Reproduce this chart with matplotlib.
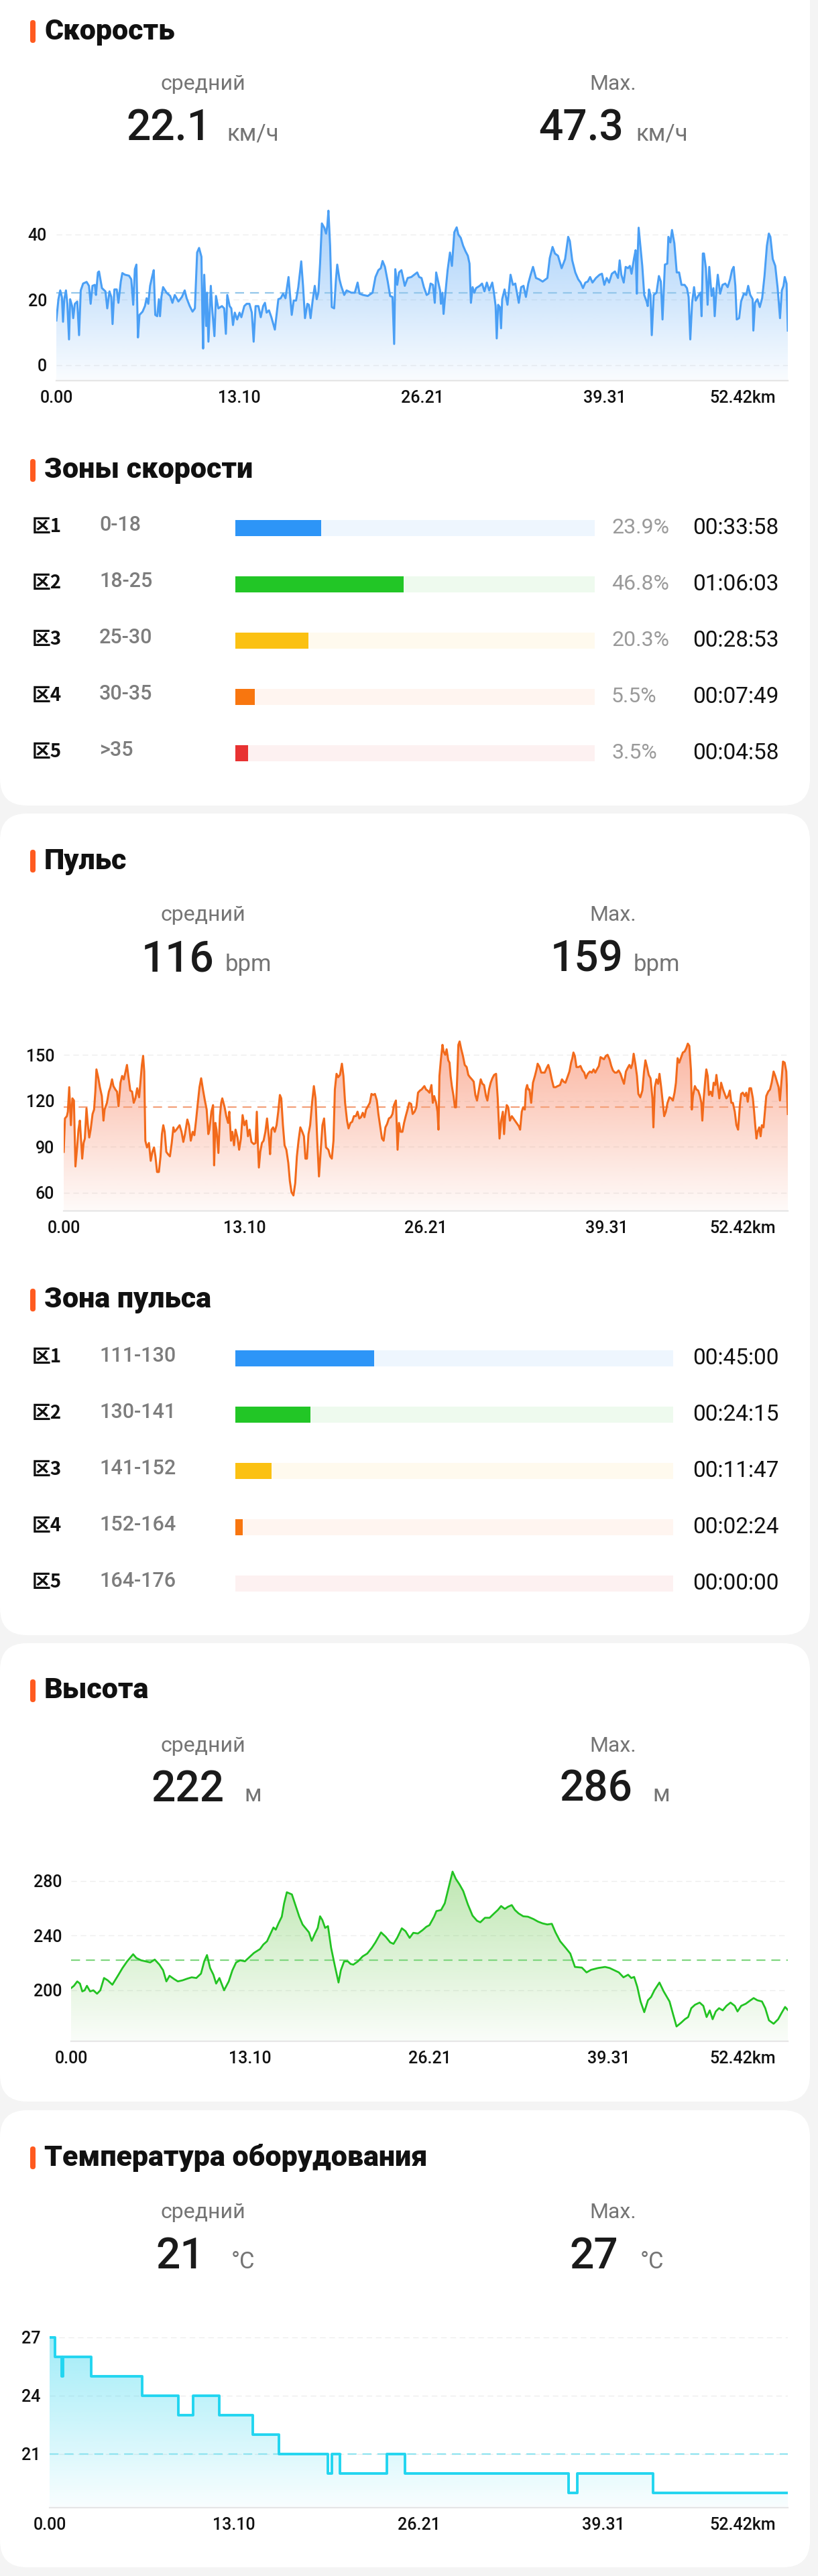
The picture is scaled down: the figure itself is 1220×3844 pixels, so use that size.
import numpy as np
import matplotlib
matplotlib.use("Agg")
import matplotlib.pyplot as plt
from matplotlib.patches import FancyBboxPatch
from matplotlib.colors import to_rgb
from matplotlib.transforms import ScaledTranslation

# ── DATA ──────────────────────────────────────────────────────────────
TOTAL_KM = 52.42
x_ticks = [0, 13.105, 26.21, 39.315, 52.42]
x_tick_labels = ["0.00", "13.10", "26.21", "39.31", "52.42km"]

# (km, km/h)
speed_points = [
    (0.00, 13.7), (0.15, 20.2), (0.28, 22.9), (0.40, 20.9), (0.48, 13.3), (0.57, 20.2), (0.69, 22.9),
    (0.79, 18.8), (0.91, 7.9), (0.99, 20.2), (1.13, 18.1), (1.21, 14.4), (1.33, 18.8), (1.50, 19.5),
    (1.63, 9.2), (1.75, 22.9), (1.92, 25.0), (2.17, 25.5), (2.34, 24.3), (2.46, 18.8), (2.59, 24.3),
    (2.76, 24.6), (2.84, 21.5), (2.98, 28.4), (3.06, 28.7), (3.27, 23.6), (3.52, 22.6), (3.65, 17.4),
    (3.81, 22.6), (3.94, 20.9), (4.03, 12.6), (4.16, 23.2), (4.33, 23.2), (4.45, 19.1), (4.62, 25.6),
    (4.73, 28.2), (4.92, 27.7), (5.21, 27.4), (5.37, 26.3), (5.51, 18.5), (5.63, 29.4), (5.74, 30.8),
    (5.85, 8.5), (5.96, 15.4), (6.18, 16.4), (6.35, 18.1), (6.47, 20.5), (6.59, 18.8), (6.72, 24.3),
    (6.86, 27.0), (6.98, 29.1), (7.09, 15.4), (7.23, 15.0), (7.35, 20.2), (7.43, 15.0), (7.53, 20.9),
    (7.65, 23.9), (7.90, 22.2), (8.16, 21.2), (8.32, 19.1), (8.49, 21.5), (8.75, 19.5), (9.00, 20.9),
    (9.20, 22.9), (9.34, 20.5), (9.56, 18.1), (9.76, 16.4), (9.93, 17.4), (10.09, 34.5), (10.23, 35.9),
    (10.40, 33.2), (10.47, 14.7), (10.52, 5.1), (10.60, 27.7), (10.74, 12.0), (10.80, 22.2), (10.90, 7.2),
    (11.07, 24.3), (11.19, 16.1), (11.33, 8.9), (11.44, 21.2), (11.61, 17.4), (11.87, 18.1), (12.03, 17.4),
    (12.15, 9.6), (12.25, 21.5), (12.42, 18.1), (12.54, 17.4), (12.66, 12.3), (12.79, 16.1), (12.96, 14.0),
    (13.13, 16.1), (13.26, 14.7), (13.47, 18.1), (13.64, 18.8), (13.84, 18.8), (14.01, 16.1), (14.14, 7.2),
    (14.28, 18.1), (14.48, 18.1), (14.65, 14.7), (14.82, 18.1), (14.95, 19.1), (15.07, 16.1), (15.24, 16.8),
    (15.41, 14.7), (15.66, 10.9), (15.91, 20.2), (16.08, 20.5), (16.25, 21.9), (16.42, 20.5), (16.64, 27.0),
    (16.75, 21.5), (16.87, 15.4), (17.01, 19.8), (17.18, 19.8), (17.34, 23.9), (17.55, 31.8), (17.68, 24.3),
    (17.82, 14.4), (17.99, 18.8), (18.10, 18.5), (18.22, 14.4), (18.36, 19.5), (18.52, 24.3), (18.66, 20.2),
    (18.78, 22.2), (18.90, 31.1), (19.03, 43.4), (19.20, 42.1), (19.33, 40.3), (19.42, 42.7), (19.50, 47.3),
    (19.62, 36.6), (19.74, 17.8), (19.91, 17.4), (20.04, 26.3), (20.13, 30.8), (20.29, 26.3), (20.41, 24.3),
    (20.63, 21.5), (20.80, 22.9), (21.14, 22.2), (21.39, 22.2), (21.59, 25.3), (21.73, 21.9), (21.98, 21.5),
    (22.32, 21.2), (22.66, 22.2), (22.87, 27.0), (23.08, 29.1), (23.25, 29.7), (23.38, 31.9), (23.55, 30.1),
    (23.75, 25.6), (23.92, 21.2), (24.09, 20.9), (24.21, 6.5), (24.29, 29.4), (24.43, 24.6), (24.56, 28.4),
    (24.73, 29.1), (24.97, 24.3), (25.18, 26.7), (25.44, 27.0), (25.86, 28.4),
    (26.00, 27.0), (26.17, 26.7), (26.34, 23.9), (26.54, 21.5), (26.68, 21.9), (26.82, 25.0), (26.99, 24.6),
    (27.12, 19.1), (27.22, 28.4), (27.36, 25.6), (27.50, 22.9), (27.56, 18.8), (27.67, 22.2), (27.75, 15.7),
    (27.87, 21.5), (28.04, 29.1), (28.21, 34.5), (28.35, 30.4), (28.52, 40.7), (28.69, 42.2), (28.81, 40.0),
    (28.98, 39.0), (29.15, 36.6), (29.32, 34.9), (29.49, 33.5), (29.61, 31.1), (29.71, 19.1), (29.83, 23.9),
    (29.95, 22.2), (30.08, 23.6), (30.34, 24.3), (30.51, 25.0), (30.68, 22.6), (30.85, 25.3), (31.02, 22.9),
    (31.24, 25.3), (31.36, 22.2), (31.48, 18.1), (31.56, 8.2), (31.66, 18.5), (31.78, 17.8), (31.87, 11.3),
    (31.95, 20.2), (32.12, 23.2), (32.33, 18.5), (32.55, 27.7), (32.72, 24.6), (32.89, 25.0), (33.01, 22.2),
    (33.14, 19.1), (33.31, 23.9), (33.48, 24.3), (33.65, 20.9), (33.82, 25.0), (33.99, 27.7), (34.16, 30.1),
    (34.37, 26.7), (34.59, 26.3), (34.85, 25.6), (35.19, 26.7), (35.36, 32.8), (35.56, 36.2), (35.73, 34.2),
    (35.95, 33.5), (36.21, 29.7), (36.46, 32.5), (36.68, 39.3), (36.80, 38.0), (36.97, 32.1), (37.19, 28.4),
    (37.40, 26.3), (37.57, 25.3), (37.74, 23.6), (37.91, 25.3), (38.08, 25.6), (38.25, 27.0), (38.42, 25.3),
    (38.67, 26.7), (38.93, 27.7), (39.10, 28.0), (39.27, 24.6), (39.44, 26.7), (39.61, 25.3), (39.81, 28.0),
    (40.03, 28.7), (40.25, 26.7), (40.37, 32.1), (40.49, 27.7), (40.66, 25.3), (40.80, 30.1), (40.97, 29.7),
    (41.10, 30.4), (41.22, 28.0), (41.39, 32.5), (41.51, 35.2), (41.60, 21.9), (41.65, 32.5), (41.73, 42.1),
    (41.85, 36.6), (41.99, 30.4), (42.13, 21.5), (42.30, 19.5), (42.38, 18.1), (42.47, 23.2), (42.58, 21.5),
    (42.67, 9.2), (42.81, 21.5), (43.01, 22.2), (43.18, 27.3), (43.32, 25.6), (43.44, 14.0), (43.61, 30.8),
    (43.78, 31.1), (43.86, 39.3), (44.00, 37.6), (44.12, 41.4), (44.29, 37.3), (44.46, 28.4), (44.63, 28.4),
    (44.80, 24.6), (45.02, 24.6), (45.19, 23.6), (45.31, 20.9), (45.43, 7.9), (45.56, 19.1), (45.70, 23.9),
    (45.82, 19.8), (45.99, 21.2), (46.16, 22.2), (46.24, 15.0), (46.33, 34.2), (46.41, 34.2), (46.55, 29.7),
    (46.67, 18.5), (46.79, 30.1), (46.96, 21.2), (47.09, 23.6), (47.18, 15.0), (47.30, 22.9), (47.40, 27.7),
    (47.57, 21.9), (47.74, 24.6), (47.94, 25.0), (48.11, 23.9), (48.28, 26.3), (48.42, 29.1), (48.54, 30.1),
    (48.66, 24.3), (48.76, 14.0), (48.93, 14.4), (49.07, 19.5), (49.27, 21.9), (49.44, 21.5), (49.58, 24.3),
    (49.73, 21.5), (49.90, 20.2), (49.95, 10.6), (50.07, 19.1), (50.24, 20.2), (50.41, 17.8), (50.58, 20.5),
    (50.75, 27.4), (50.92, 36.6), (51.06, 40.3), (51.17, 39.3), (51.34, 32.5), (51.52, 30.4), (51.69, 23.6),
    (51.86, 14.4), (51.99, 22.9), (52.11, 24.3), (52.20, 27.0), (52.33, 25.0), (52.42, 10.6),
]

# (km, bpm)
pulse_points = [
    (0.00, 86.7), (0.09, 108.5), (0.23, 110.0), (0.30, 112.9), (0.40, 128.9), (0.52, 104.1), (0.63, 121.6),
    (0.74, 120.2), (0.85, 77.2), (0.97, 89.6), (1.07, 101.2), (1.17, 107.1), (1.28, 91.0), (1.34, 82.3),
    (1.44, 92.5), (1.53, 95.4), (1.65, 115.1), (1.75, 104.1), (1.85, 96.1), (1.95, 101.2), (2.09, 111.4),
    (2.20, 114.3), (2.29, 126.0), (2.37, 140.5), (2.51, 134.7), (2.62, 128.9), (2.76, 123.1), (2.88, 107.1),
    (2.96, 114.3), (3.13, 118.7), (3.27, 126.0), (3.38, 128.9), (3.50, 134.0), (3.60, 129.6), (3.74, 127.4),
    (3.86, 126.0), (3.97, 116.5), (4.11, 131.8), (4.23, 136.2), (4.35, 134.0), (4.48, 139.1), (4.58, 143.4),
    (4.68, 136.2), (4.82, 126.7), (4.95, 126.0), (5.07, 118.7), (5.19, 121.6), (5.32, 128.2), (5.46, 122.3),
    (5.58, 134.7), (5.66, 143.4), (5.75, 149.3), (5.83, 139.1), (5.91, 94.0), (6.03, 89.6), (6.17, 92.5),
    (6.30, 80.9), (6.42, 86.7), (6.54, 89.6), (6.64, 83.8), (6.76, 73.6), (6.89, 73.6), (7.01, 83.8),
    (7.11, 98.3), (7.21, 104.1), (7.31, 99.8), (7.43, 86.7), (7.55, 85.2), (7.69, 83.8), (7.82, 92.5),
    (7.94, 102.7), (8.02, 99.8), (8.16, 101.2), (8.28, 102.7), (8.39, 104.1), (8.53, 99.8), (8.66, 93.2),
    (8.78, 98.3), (8.95, 107.8), (9.07, 104.1), (9.20, 94.0), (9.34, 99.8), (9.46, 97.6), (9.58, 107.1),
    (9.71, 118.7), (9.83, 128.9), (9.95, 134.7), (10.08, 127.4), (10.22, 120.2), (10.35, 114.3), (10.47, 98.3),
    (10.55, 101.2), (10.69, 112.9), (10.81, 117.2), (10.89, 77.9), (10.98, 105.6), (11.06, 101.2), (11.20, 86.0),
    (11.31, 110.0), (11.40, 118.7), (11.48, 121.6), (11.65, 115.8), (11.77, 110.0), (11.90, 105.6), (11.99, 112.9),
    (12.11, 94.0), (12.21, 99.8), (12.33, 91.0), (12.44, 101.2), (12.58, 96.1), (12.70, 88.1), (12.83, 95.4),
    (12.95, 110.7), (13.08, 104.1), (13.22, 107.1), (13.34, 96.9), (13.46, 101.2), (13.59, 93.2), (13.76, 91.8),
    (13.89, 92.5), (13.98, 112.9), (14.06, 91.0), (14.13, 76.5), (14.23, 86.7), (14.35, 92.5), (14.47, 94.0),
    (14.60, 99.8), (14.72, 108.5), (14.86, 95.4), (14.94, 85.2), (15.04, 101.2), (15.16, 102.7), (15.28, 99.8),
    (15.41, 104.1), (15.53, 112.9), (15.65, 123.8), (15.75, 121.6), (15.87, 104.1), (15.99, 91.0), (16.12, 88.1),
    (16.26, 79.4), (16.37, 67.8), (16.49, 60.5), (16.63, 58.3), (16.76, 66.3), (16.88, 83.8), (17.00, 94.0),
    (17.13, 102.7), (17.27, 99.8), (17.39, 96.9), (17.50, 82.3), (17.61, 82.3), (17.72, 98.3), (17.84, 104.1),
    (17.98, 118.7), (18.11, 129.6), (18.23, 121.6), (18.35, 95.4), (18.48, 70.7), (18.62, 89.6), (18.73, 104.1),
    (18.85, 108.5), (18.99, 89.6), (19.16, 88.1), (19.29, 83.8), (19.41, 82.3), (19.53, 94.0), (19.63, 127.4),
    (19.75, 137.6), (19.87, 135.4), (20.00, 136.9), (20.14, 144.2), (20.25, 136.2), (20.37, 118.7), (20.51, 107.1),
    (20.62, 102.0), (20.76, 105.6), (20.88, 106.3), (21.01, 110.0), (21.15, 110.0), (21.27, 112.9), (21.40, 108.5),
    (21.52, 109.3), (21.65, 112.2), (21.77, 109.3), (21.89, 114.3), (22.03, 116.5), (22.16, 118.7), (22.28, 124.5),
    (22.40, 123.8), (22.53, 124.5), (22.67, 120.2), (22.78, 111.4), (22.90, 104.1), (23.04, 95.4), (23.16, 94.0),
    (23.29, 102.7), (23.41, 104.9), (23.54, 108.5), (23.68, 109.3), (23.80, 111.4), (23.91, 117.2), (24.05, 120.2),
    (24.17, 88.1), (24.27, 105.6), (24.39, 99.8), (24.52, 99.8), (24.64, 105.6), (24.76, 110.0), (24.89, 114.3),
    (25.01, 118.7), (25.15, 118.0), (25.26, 111.4), (25.40, 112.9), (25.53, 115.8), (25.65, 125.3), (25.79, 126.7),
    (25.91, 127.4),
    (26.11, 129.6), (26.23, 127.4), (26.34, 126.7), (26.48, 125.3), (26.62, 130.3), (26.72, 118.7), (26.82, 123.1),
    (26.96, 118.7), (27.06, 112.9), (27.13, 101.2), (27.20, 136.2), (27.30, 146.4), (27.42, 156.5), (27.50, 152.2),
    (27.62, 150.0), (27.72, 153.6), (27.84, 146.4), (27.93, 144.9), (28.01, 136.2), (28.10, 129.6), (28.22, 123.1),
    (28.32, 115.8), (28.40, 115.8), (28.49, 136.2), (28.57, 156.5), (28.66, 158.7), (28.78, 153.6), (28.90, 149.3),
    (29.03, 143.4), (29.17, 142.0), (29.29, 136.9), (29.41, 135.4), (29.55, 134.0), (29.68, 132.5), (29.80, 123.8),
    (29.92, 120.2), (30.06, 127.4), (30.19, 134.0), (30.31, 131.1), (30.43, 130.3), (30.57, 123.1), (30.67, 120.2),
    (30.79, 127.4), (30.91, 131.8), (31.03, 134.7), (31.16, 136.9), (31.30, 137.6), (31.42, 121.6), (31.55, 95.4),
    (31.67, 107.1), (31.79, 112.9), (31.88, 98.3), (31.96, 110.0), (32.07, 117.2), (32.18, 115.8), (32.30, 107.1),
    (32.44, 110.0), (32.61, 107.8), (32.78, 105.6), (32.95, 103.4), (33.04, 101.2), (33.16, 112.9), (33.26, 115.8),
    (33.38, 114.3), (33.46, 127.4), (33.55, 130.3), (33.63, 127.4), (33.72, 127.4), (33.84, 118.7), (33.97, 131.8),
    (34.11, 136.2), (34.23, 140.5), (34.31, 144.2), (34.45, 142.0), (34.57, 138.4), (34.70, 138.4), (34.82, 138.4),
    (34.96, 141.3), (35.08, 143.4), (35.20, 139.8), (35.33, 134.0), (35.47, 128.9), (35.61, 128.9), (35.76, 129.6),
    (35.93, 130.3), (36.07, 134.0), (36.19, 132.5), (36.32, 131.8), (36.44, 134.7), (36.61, 139.1), (36.73, 144.9),
    (36.82, 147.8), (36.90, 151.5), (37.00, 149.3), (37.12, 142.0), (37.26, 142.0), (37.41, 142.7), (37.55, 139.8),
    (37.68, 138.4), (37.80, 134.7), (37.94, 137.6), (38.09, 139.1), (38.23, 138.4), (38.36, 140.5), (38.48, 138.4),
    (38.60, 140.5), (38.74, 142.7), (38.86, 148.5), (38.99, 147.8), (39.11, 147.1), (39.25, 149.3), (39.37, 150.0),
    (39.51, 147.1), (39.64, 142.7), (39.76, 139.8), (39.90, 138.4), (40.03, 138.4), (40.17, 139.8), (40.31, 137.6),
    (40.44, 134.0), (40.56, 131.1), (40.70, 139.1), (40.82, 141.3), (40.95, 143.4), (41.07, 141.3), (41.17, 144.2),
    (41.26, 150.7), (41.38, 144.2), (41.50, 136.2), (41.60, 124.5), (41.74, 122.3), (41.89, 126.7), (42.01, 139.1),
    (42.11, 146.4), (42.23, 142.0), (42.35, 136.9), (42.48, 134.7), (42.62, 121.6), (42.69, 102.7), (42.79, 128.9),
    (42.91, 134.0), (43.03, 131.1), (43.13, 137.6), (43.25, 128.9), (43.37, 118.7), (43.47, 110.0), (43.59, 112.9),
    (43.71, 118.7), (43.85, 122.3), (43.98, 121.6), (44.10, 120.2), (44.22, 125.3), (44.32, 131.8), (44.44, 147.8),
    (44.56, 144.9), (44.70, 148.5), (44.82, 151.5), (44.95, 152.2), (45.07, 154.4), (45.18, 157.3), (45.29, 155.8),
    (45.41, 139.8), (45.47, 114.3), (45.55, 123.1), (45.69, 129.6), (45.81, 127.4), (45.93, 126.7), (46.06, 123.1),
    (46.16, 118.7), (46.23, 107.1), (46.33, 121.6), (46.44, 133.3), (46.52, 140.5), (46.62, 136.2), (46.71, 123.8),
    (46.83, 126.0), (46.95, 123.1), (47.05, 131.8), (47.17, 130.3), (47.25, 136.9), (47.34, 130.3), (47.46, 121.6),
    (47.59, 131.8), (47.73, 127.4), (47.85, 124.5), (47.97, 121.6), (48.10, 123.1), (48.22, 126.7), (48.33, 118.7),
    (48.44, 118.7), (48.58, 112.9), (48.70, 104.1), (48.82, 101.2), (48.95, 117.2), (49.04, 124.5), (49.16, 125.3),
    (49.30, 123.1), (49.41, 125.3), (49.52, 119.4), (49.64, 128.2), (49.76, 128.2), (49.89, 121.6), (49.98, 112.9),
    (50.06, 104.1), (50.15, 95.4), (50.23, 99.8), (50.35, 102.7), (50.45, 96.9), (50.54, 104.1), (50.66, 102.7),
    (50.74, 110.7), (50.86, 123.1), (51.00, 126.0), (51.13, 127.4), (51.25, 131.8), (51.39, 139.1), (51.51, 136.2),
    (51.63, 132.5), (51.75, 128.9), (51.85, 120.2), (51.95, 131.8), (52.07, 145.6), (52.19, 144.9), (52.31, 139.1),
    (52.42, 111.4),
]

# (km, m)
alt_points = [
    (0.00, 201.6), (0.21, 203.3), (0.45, 206.5), (0.65, 204.9), (0.82, 199.2), (0.99, 200.0), (1.16, 203.3),
    (1.39, 199.2), (1.63, 200.0), (1.90, 197.5), (2.14, 200.0), (2.41, 209.0), (2.68, 207.3), (3.02, 204.1),
    (3.42, 210.6), (3.76, 216.3), (4.10, 221.2), (4.54, 226.4), (4.77, 223.7), (5.11, 222.0), (5.45, 221.2),
    (5.79, 220.4), (6.12, 222.5), (6.46, 218.8), (6.73, 214.7), (6.97, 206.5), (7.20, 210.6), (7.54, 208.2),
    (7.81, 206.5), (8.15, 207.3), (8.49, 208.5), (8.82, 209.5), (9.16, 209.0), (9.50, 212.2), (9.74, 221.2),
    (9.94, 225.8), (10.17, 216.3), (10.41, 211.4), (10.61, 204.9), (10.85, 209.0), (11.19, 200.0), (11.53, 206.5),
    (11.80, 214.7), (12.07, 220.4), (12.37, 222.0), (12.71, 221.2), (12.98, 223.7), (13.38, 227.4), (13.82, 230.2),
    (14.06, 233.5), (14.33, 235.9), (14.56, 240.8), (14.80, 246.0), (14.97, 244.4), (15.17, 249.0), (15.41, 253.9),
    (15.58, 263.7), (15.78, 271.8), (16.15, 270.2), (16.42, 262.0), (16.69, 253.9), (16.93, 248.2), (17.20, 244.9),
    (17.40, 242.4), (17.60, 236.2), (17.84, 241.6), (18.04, 245.7), (18.21, 254.2), (18.38, 251.4), (18.58, 245.7),
    (18.79, 247.0), (19.02, 231.0), (19.29, 218.0), (19.56, 205.7), (19.73, 214.7), (19.97, 221.2), (20.24, 221.2),
    (20.44, 219.3), (20.64, 218.8), (20.98, 221.2), (21.32, 224.8), (21.66, 226.9), (21.99, 231.0), (22.26, 235.1),
    (22.67, 242.4), (23.01, 239.2), (23.34, 235.1), (23.58, 234.0), (23.85, 238.4), (24.19, 245.4), (24.46, 243.3),
    (24.76, 238.4), (25.03, 242.1), (25.37, 241.6), (25.71, 244.1), (25.98, 246.5), (26.21, 247.7), (26.55, 253.9),
    (26.72, 258.0), (27.06, 258.8), (27.33, 263.7), (27.57, 273.5), (27.90, 286.9), (28.14, 281.6), (28.41, 277.5),
    (28.68, 272.7), (29.02, 262.9), (29.36, 254.7), (29.69, 250.9), (29.93, 249.8), (30.27, 253.1), (30.61, 253.1),
    (30.94, 256.3), (31.21, 258.8), (31.45, 261.7), (31.72, 259.6), (31.96, 261.2), (32.23, 262.4), (32.46, 258.8),
    (32.73, 256.3), (33.07, 254.2), (33.41, 253.9), (33.81, 252.2), (34.15, 250.3), (34.49, 249.0), (34.83, 248.2),
    (35.16, 248.7), (35.43, 242.4), (35.77, 235.9), (36.18, 231.0), (36.51, 226.9), (36.85, 217.1), (37.36, 216.6),
    (37.70, 213.1), (38.03, 215.0), (38.54, 216.3), (39.05, 217.1), (39.39, 216.3), (39.72, 214.7), (40.06, 213.1),
    (40.40, 209.5), (40.74, 211.4), (40.97, 209.0), (41.18, 209.8), (41.41, 202.5), (41.65, 191.8), (41.92, 184.0),
    (42.19, 192.7), (42.42, 195.1), (42.66, 200.0), (43.03, 205.7), (43.34, 199.2), (43.77, 191.8), (44.04, 182.0),
    (44.28, 173.5), (44.62, 176.3), (44.89, 178.8), (45.13, 180.4), (45.36, 186.9), (45.63, 189.4), (45.97, 191.0),
    (46.24, 188.6), (46.48, 180.4), (46.71, 185.3), (46.92, 178.8), (47.15, 184.5), (47.39, 186.9), (47.66, 185.3),
    (47.93, 188.6), (48.23, 191.0), (48.54, 188.6), (48.74, 184.5), (49.01, 188.6), (49.35, 190.2), (49.69, 192.7),
    (49.92, 194.3), (50.19, 192.7), (50.53, 191.8), (50.77, 186.9), (51.04, 178.0), (51.38, 175.5), (51.71, 178.8),
    (51.98, 183.7), (52.22, 187.8), (52.42, 185.6),
]

# step series: temperature holds its value until the next breakpoint
temp_km = [0.00, 0.40, 0.88, 0.95, 2.96, 6.59, 9.14, 10.18, 12.03, 14.41, 16.29, 19.74, 20.03, 20.63,
           23.93, 25.22, 36.85, 37.48, 42.86, 52.42]
temp_c = [27, 26, 25, 26, 25, 24, 23, 24, 23, 22, 21, 20, 21, 20, 21, 20, 19, 20, 19, 19]

speed_avg, speed_max = 22.1, 47.3
pulse_avg, pulse_max = 116, 159
alt_avg, alt_max = 222, 286
temp_avg, temp_max = 21, 27

zone_names = ["区1", "区2", "区3", "区4", "区5"]
speed_ranges = ["0-18", "18-25", "25-30", "30-35", ">35"]
speed_pct = [23.9, 46.8, 20.3, 5.5, 3.5]
speed_times = ["00:33:58", "01:06:03", "00:28:53", "00:07:49", "00:04:58"]
pulse_ranges = ["111-130", "130-141", "141-152", "152-164", "164-176"]
pulse_times = ["00:45:00", "00:24:15", "00:11:47", "00:02:24", "00:00:00"]

zone_colors = ["#2d95f7", "#22c626", "#fbc112", "#f8760f", "#e83232"]
zone_tints = ["#eef6fe", "#eefaee", "#fffaee", "#fff5f0", "#fdf1f1"]

# ── HELPERS ───────────────────────────────────────────────────────────
W, H = 1220, 3844
SANS = ["Roboto", "DejaVu Sans"]
CJK = ["Noto Sans CJK SC", "DejaVu Sans"]

fig = plt.figure(figsize=(W / 100, H / 100), dpi=100)
fig.patch.set_facecolor("#f4f4f4")

bg = fig.add_axes([0, 0, 1, 1])
bg.set_xlim(0, W)
bg.set_ylim(H, 0)
bg.axis("off")


def secs(t):
    h, m, s = (int(v) for v in t.split(":"))
    return h * 3600 + m * 60 + s


def card(y0, y1):
    bg.add_patch(FancyBboxPatch((0, y0), 1208, y1 - y0,
                                boxstyle="round,pad=0,rounding_size=40",
                                facecolor="white", edgecolor="none"))


def section_title(y, text):
    bg.add_patch(FancyBboxPatch((45, y - 17), 8, 34,
                                boxstyle="round,pad=0,rounding_size=4",
                                facecolor="#ff5a1f", edgecolor="none"))
    bg.text(66, y, text, fontsize=31, fontweight="black", family=SANS,
            color="#111111", va="center", ha="left")


def header(y_lab, y_base, avg, mx, unit, num_r, unit_l):
    for xc, lab in ((303, "средний"), (914, "Max.")):
        bg.text(xc, y_lab, lab, fontsize=23, family=SANS, color="#747474",
                ha="center", va="center")
    for val, xr, xu in ((avg, num_r[0], unit_l[0]), (mx, num_r[1], unit_l[1])):
        bg.text(xr, y_base, str(val), fontsize=46, family=SANS, fontweight="medium",
                color="#1a1a1a", ha="right", va="baseline")
        bg.text(xu, y_base, unit, fontsize=25, family=SANS, color="#747474",
                ha="left", va="baseline")


def area_chart(x0, x1, ytop, ybot, xs, ys, ylim, yticks, line_c, fill_c, avg, avg_c,
               lw=2.2, step=False, alpha_top=0.5):
    ax = fig.add_axes([x0 / W, 1 - ybot / H, (x1 - x0) / W, (ybot - ytop) / H])
    ax.set_facecolor("none")
    for t in yticks:
        ax.axhline(t, color="#eeeeee", lw=1.0, ls=(0, (6, 4)), zorder=1)
    ds = "steps-post" if step else "default"
    poly = ax.fill_between(xs, ys, ylim[0], step="post" if step else None,
                           facecolor="none", edgecolor="none")
    grad = np.zeros((256, 1, 4))
    grad[..., :3] = to_rgb(fill_c)
    grad[..., 3] = np.linspace(0.03, alpha_top, 256)[:, None]
    im = ax.imshow(grad, extent=[0, TOTAL_KM, ylim[0], ylim[1]], origin="lower",
                   aspect="auto", interpolation="bilinear", zorder=2)
    im.set_clip_path(poly.get_paths()[0], transform=ax.transData)
    ax.axhline(avg, color=avg_c, lw=1.6, ls=(0, (6, 4)), zorder=3)
    ax.plot(xs, ys, color=line_c, lw=lw, drawstyle=ds, zorder=4,
            solid_joinstyle="round")
    ax.set_xlim(0, TOTAL_KM)
    ax.set_ylim(*ylim)
    for s in ("top", "right", "left"):
        ax.spines[s].set_visible(False)
    ax.spines["bottom"].set_color("#e6e6e6")
    ax.spines["bottom"].set_linewidth(1.6)
    ax.set_yticks(yticks)
    ax.set_yticklabels([str(t) for t in yticks], family=SANS, fontsize=18,
                       fontweight="medium", color="#111111")
    ax.set_xticks(x_ticks)
    ax.set_xticklabels(x_tick_labels, family=SANS, fontsize=18,
                       fontweight="medium", color="#111111")
    ax.tick_params(length=0, pad=10)
    last = ax.get_xticklabels()[-1]
    last.set_horizontalalignment("right")
    last.set_transform(last.get_transform() + ScaledTranslation(-0.18, 0, fig.dpi_scale_trans))
    return ax


def zone_block(x0, x1, ytop, ranges, fracs, times, pcts=None):
    ax = fig.add_axes([x0 / W, 1 - (ytop + 420) / H, (x1 - x0) / W, 420 / H])
    rows = np.arange(5)
    ax.barh(rows, [1] * 5, height=0.286, color=zone_tints, zorder=1)
    ax.barh(rows, fracs, height=0.286, color=zone_colors, zorder=2)
    ax.set_xlim(0, 1)
    ax.set_ylim(4.5, -0.5)
    ax.axis("off")
    for i in rows:
        yc = ytop + 42 + 84 * i
        bg.text(48, yc - 2, zone_names[i], fontsize=20, fontweight="bold", family=CJK,
                color="#111111", va="center", ha="left")
        bg.text(148, yc - 4, ranges[i], fontsize=22, fontweight="medium", family=SANS,
                color="#7d7d7d", va="center", ha="left")
        if pcts is not None:
            bg.text(912, yc, f"{pcts[i]}%", fontsize=23, family=SANS, color="#9a9a9a",
                    va="center", ha="left")
        bg.text(1033, yc, times[i], fontsize=24, family=SANS, color="#111111",
                va="center", ha="left")


# ── CARDS ─────────────────────────────────────────────────────────────
card(-60, 1202)
card(1214, 2440)
card(2452, 3136)
card(3149, 3831)

# speed
section_title(47, "Скорость")
header(126, 209, speed_avg, speed_max, "км/ч", (315, 930), (338, 948))
sx, sy = zip(*speed_points)
area_chart(84, 1175, 301.25, 568, sx, sy, (-4.72, 50), [0, 20, 40],
           "#4a9ff5", "#4a9ff5", speed_avg, "#93c6ea", lw=2.2, alpha_top=0.52)

section_title(702, "Зоны скорости")
total_secs = sum(secs(t) for t in speed_times)
zone_block(351, 887, 746, speed_ranges, [p / 100 for p in speed_pct], speed_times, speed_pct)

# pulse
section_title(1285, "Пульс")
header(1366, 1449, pulse_avg, pulse_max, "bpm", (319, 930), (336, 945))
px_, py_ = zip(*pulse_points)
area_chart(95, 1175, 1539.7, 1807, px_, py_, (48.2, 165), [60, 90, 120, 150],
           "#f26a1b", "#f7724a", pulse_avg, "#f3a07a", lw=2.2, alpha_top=0.55)

section_title(1940, "Зона пульса")
zone_block(351, 1004, 1985, pulse_ranges,
           [secs(t) / total_secs for t in pulse_times], pulse_times)

# altitude
section_title(2523, "Высота")
header(2605, 2688, alt_avg, alt_max, "м", (335, 943), (364, 973))
ax_, ay_ = zip(*alt_points)
area_chart(106, 1175, 2776.4, 3046, ax_, ay_, (162.7, 295), [200, 240, 280],
           "#22c322", "#5cc23c", alt_avg, "#7fd67f", lw=2.0, alpha_top=0.42)

# temperature
section_title(3220, "Температура оборудования")
header(3301, 3385, temp_avg, temp_max, "°C", (305, 922), (345, 955))
area_chart(74, 1175, 3470.6, 3742, temp_km, temp_c, (18.24, 27.6), [21, 24, 27],
           "#22d5f0", "#22d3ee", temp_avg, "#8fe3f0", lw=2.8, step=True, alpha_top=0.45)

fig.savefig("out.png", dpi=100, facecolor=fig.get_facecolor())
